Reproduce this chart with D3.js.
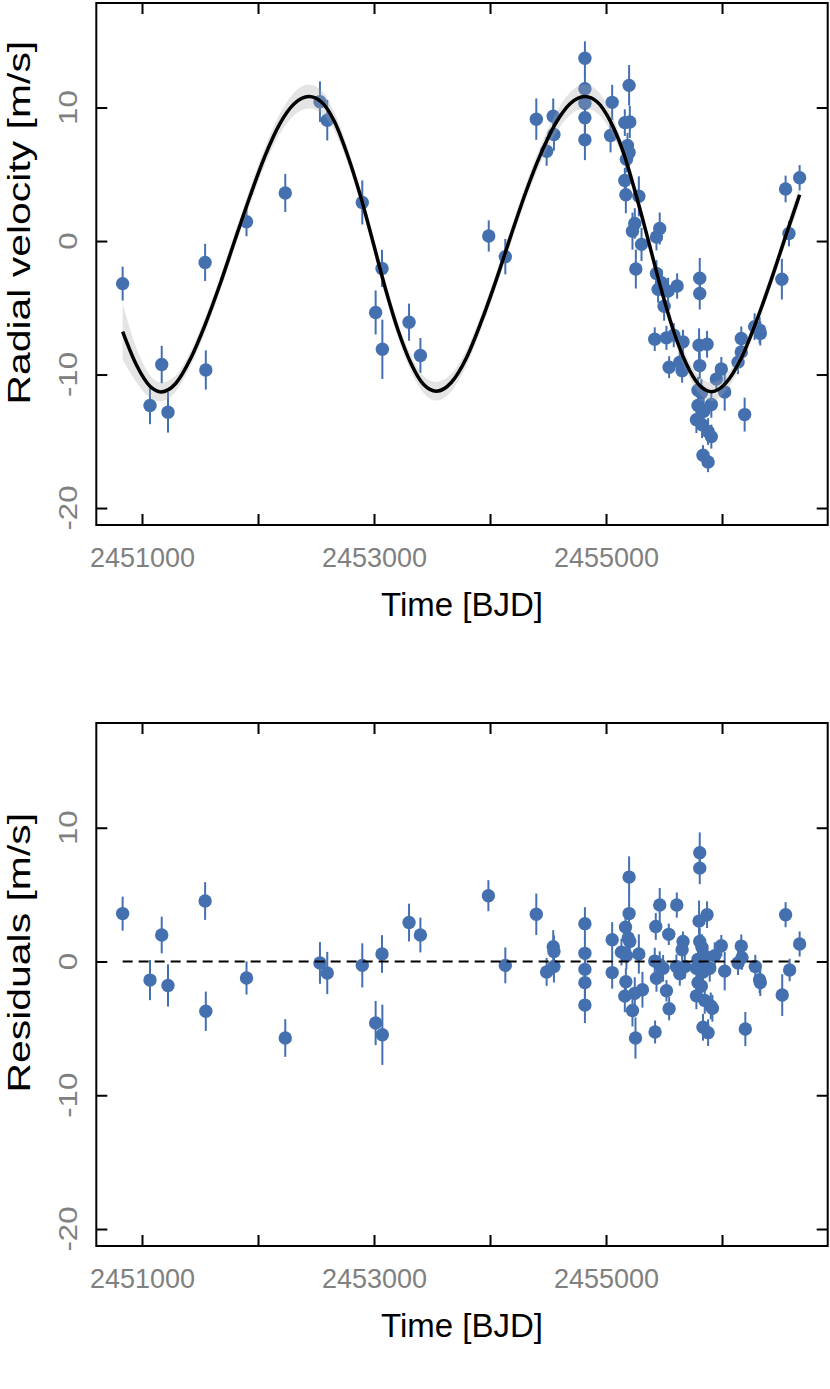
<!DOCTYPE html>
<html><head><meta charset="utf-8">
<script src="https://cdn.jsdelivr.net/npm/d3@7"></script>
<style>body{margin:0;background:#fff}svg{display:block}</style>
</head><body>
<script>
// ---------- DATA ----------
const xTicks = [2451000, 2452000, 2453000, 2454000, 2455000, 2456000];
const xTickLabels = ["2451000", "", "2453000", "", "2455000", ""];
const yTicks = [-20, -10, 0, 10];
const yTickLabels = ["-20", "-10", "0", "10"];

// observed radial velocities
const rvTime = [2450833,2451069,2451170,2451224,2451544,2451550,2451901,2452235,2452534,2452597,2452899,2453014,2453069,2453072,2453302,2453400,
 2453989,2454132,2454399,2454488,2454545,2454551,2454818,2454818,2454818,2454818,2454818,2455053,2455039,2455199,2455162,2455205,2455185,2455199,2455176,2455162,2455171,2455283,2455248,2455228,2455306,2455257,
 2455463,2455435,2455435,2455449,2455478,2455501,2455535,2455613,2455420,2455521,2455584,2455664,2455544,2455636,2455656,
 2455808,2455808,2455802,2455871,2455808,2455793,2455822,2455793,2455842,2455779,2455828,2455880,2455908,2455836,2455880,2455908,
 2455994,2455951,2456023,2456195,2456138,2456166,2456166,2456281,2456324,2456330,2456516,2456577,2456548,2456669];
const rvValue = [-3.19,-12.32,-9.25,-12.83,-1.60,-9.66,1.44,3.60,10.44,9.05,2.89,-5.35,-2.05,-8.11,-6.08,-8.57,
 0.38,-1.17,9.13,6.72,9.35,7.98,13.69,11.41,10.32,9.23,7.58,10.39,7.91,11.66,8.87,8.92,7.15,6.64,6.13,4.54,3.47,3.35,1.32,0.74,-0.25,-2.10,
 0.94,0.30,-2.43,-3.62,-3.12,-4.89,-3.75,-3.37,-7.35,-7.25,-7.05,-7.55,-9.45,-9.07,-9.71,
 -2.79,-3.93,-7.81,-7.73,-9.33,-11.18,-11.36,-12.32,-12.75,-13.38,-13.76,-14.27,-14.65,-16.05,-16.55,-12.24,
 -9.58,-10.34,-11.31,-13.0,-9.07,-7.3,-8.31,-6.41,-6.67,-6.92,-2.86,0.56,3.9,4.74];
const rvError = [1.27,1.4,1.4,1.52,1.39,1.47,1.08,1.43,1.52,1.52,1.65,1.65,1.39,2.22,1.39,1.3,
 1.17,1.33,1.55,1.08,1.33,1.2,1.27,1.2,1.2,1.2,1.52,1.31,1.27,1.52,1.0,1.2,0.95,1.0,1.0,0.95,1.39,1.5,1.14,1.39,1.24,1.46,
 1.2,1.0,1.0,1.0,1.0,1.08,1.0,0.95,0.89,0.9,0.9,0.9,0.82,0.9,0.9,
 1.52,1.2,1.27,1.0,1.0,1.0,1.0,1.0,1.0,1.0,1.0,1.0,0.9,0.76,0.76,1.0,
 0.9,0.9,1.4,1.27,0.9,0.9,0.9,1.0,1.0,0.9,1.52,0.95,1.0,0.95];

// fitted model curve and the half-width of its grey uncertainty band
const modelTime = [2450833,2450950,2451069,2451164,2451292,2451419,2451547,2451674,2451802,2451929,2452057,2452184,2452312,2452439,
 2452549,2452659,2452769,2452879,2452989,2453098,2453208,2453318,2453428,2453538,
 2453666,2453794,2453922,2454050,2454178,2454306,2454434,2454562,2454690,2454818,
 2454927,2455036,2455145,2455254,2455363,2455472,2455581,2455690,2455799,2455908,
 2456036,2456164,2456292,2456420,2456548,2456669];
const modelValue = [-6.79,-9.25,-10.88,-11.3,-10.65,-8.8,-6.2,-3.2,0.1,3.3,6.3,8.72,10.28,10.82,
 10.4,8.95,6.5,3.5,0.0,-3.55,-6.7,-9.15,-10.75,-11.25,
 -10.6,-8.8,-6.1,-3.0,0.35,3.6,6.45,8.75,10.28,10.82,
 10.4,9.0,6.75,3.6,0.1,-3.5,-6.7,-9.15,-10.74,-11.28,
 -10.6,-8.8,-6.1,-3.0,0.35,3.47];
const modelBand = [2.1,1.3,0.85,0.7,0.6,0.55,0.55,0.55,0.55,0.6,0.65,0.75,0.85,0.9,
 0.85,0.7,0.6,0.55,0.55,0.55,0.55,0.6,0.65,0.7,
 0.65,0.6,0.55,0.55,0.55,0.6,0.65,0.75,0.85,0.9,
 0.85,0.7,0.55,0.5,0.5,0.5,0.5,0.55,0.65,0.7,
 0.6,0.5,0.5,0.5,0.55,0.65];

// residuals
const resTime = [2450833,2451069,2451170,2451224,2451544,2451550,2451901,2452235,2452534,2452597,2452899,2453069,2453014,2453072,2453302,2453400,
 2453986,2454132,2454399,2454488,2454545,2454551,2454551,2454818,2454818,2454818,2454818,2454818,2455053,2455053,
 2455199,2455199,2455168,2455191,2455205,2455133,2455176,2455283,2455171,2455162,2455228,2455254,2455248,2455314,
 2455463,2455429,2455541,2455610,2455420,2455463,2455492,2455435,2455521,2455544,2455423,2455664,2455656,2455607,2455636,2455679,
 2455808,2455808,2455802,2455871,2455808,2455828,2455793,2455851,2455779,2455836,2455894,2455793,2455822,2455779,2455851,2455903,2455917,2455836,2455880,2455937,
 2455994,2456023,2456138,2456166,2456172,2456201,2456287,2456324,2456330,2456519,2456548,2456583,2456669];
const resValue = [3.58,-1.39,1.98,-1.79,4.52,-3.72,-1.23,-5.72,-0.11,-0.86,-0.29,0.56,-4.6,-5.48,2.91,1.98,
 4.92,-0.29,3.53,-0.78,1.10,0.75,-0.37,2.83,0.61,-0.59,-1.58,-3.26,1.63,-0.83,
 6.31,3.58,2.57,1.76,1.5,0.70,0.43,0.56,-1.52,-2.59,-3.66,-5.72,-2.38,-2.11,
 4.22,2.62,2.03,4.22,0.03,-0.24,-0.51,-1.26,-2.19,-3.53,-5.27,1.5,0.88,-0.37,-0.91,-0.37,
 8.13,6.98,3.02,3.5,1.5,1.04,0.16,0.43,-0.51,-0.78,-0.51,-1.58,-1.84,-2.57,-2.91,-3.32,-3.5,-4.92,-5.32,0.43,
 1.18,-0.72,-0.11,1.15,0.29,-5.05,-0.37,-1.36,-1.58,-2.51,3.5,-0.64,1.31];
const resError = [1.27,1.5,1.37,1.58,1.41,1.47,1.24,1.41,1.56,1.58,1.65,1.41,1.65,2.25,1.41,1.3,
 1.16,1.34,1.55,1.04,1.24,1.2,1.2,1.23,1.2,1.2,1.2,1.34,1.31,1.2,
 1.55,1.2,1.0,1.0,1.0,1.0,1.0,1.47,1.0,1.2,1.2,1.54,1.2,1.34,
 1.27,1.0,0.8,0.94,1.0,1.0,1.0,1.0,0.8,0.87,0.86,0.74,0.9,0.9,0.9,0.9,
 1.52,1.2,1.54,1.0,1.0,1.0,1.0,1.0,1.0,1.0,1.0,1.0,1.0,1.0,1.0,1.0,1.0,1.0,1.0,1.0,
 0.8,1.44,0.9,0.87,0.9,1.28,0.87,1.0,1.0,1.56,0.94,0.84,0.94];

// ---------- DRAWING ----------
const W = 830, H = 1389;
const blue = "#4470b0";
const svg = d3.select("body").append("svg").attr("width", W).attr("height", H);
const font = "'Liberation Sans', Arial, Helvetica, sans-serif";

const x = d3.scaleLinear().domain([2450606, 2456911]).range([96.3, 827.7]);
const yDomain = [-21.27, 17.83];
const stretch = 1.32; // rotated text in the reference is elongated along its reading direction

function panel(top, bottom, yTitle, drawContent) {
  const y = d3.scaleLinear().domain(yDomain).range([bottom, top]);
  const g = svg.append("g");
  drawContent(g, y);
  const L = x.range()[0], R = x.range()[1];
  const tick = 11;
  const axB = d3.axisBottom(x).tickValues(xTicks).tickSizeInner(-tick).tickSizeOuter(0).tickFormat((d,i)=>xTickLabels[i]).tickPadding(23);
  const axT = d3.axisTop(x).tickValues(xTicks).tickSizeInner(-tick).tickSizeOuter(0).tickFormat("");
  const axL = d3.axisLeft(y).tickValues(yTicks).tickSizeInner(-tick).tickSizeOuter(0).tickFormat("");
  const axR = d3.axisRight(y).tickValues(yTicks).tickSizeInner(-tick).tickSizeOuter(0).tickFormat("");
  const gb = g.append("g").attr("transform", `translate(0,${bottom})`).call(axB);
  g.append("g").attr("transform", `translate(0,${top})`).call(axT);
  g.append("g").attr("transform", `translate(${L},0)`).call(axL);
  g.append("g").attr("transform", `translate(${R},0)`).call(axR);
  g.selectAll(".domain").remove();
  g.selectAll(".tick line").attr("stroke", "#000").attr("stroke-width", 2);
  gb.selectAll(".tick text").attr("fill", "#808080").attr("font-size", 27).attr("font-family", font)
    .attr("dy", "0.71em");
  // y tick labels (rotated)
  g.selectAll(".ylab").data(yTicks).join("text")
    .attr("transform", d => `translate(77,${y(d)}) rotate(-90) scale(${1.2},1)`)
    .attr("text-anchor", "middle").attr("fill", "#808080").attr("font-size", 26).attr("font-family", font)
    .text((d,i) => yTickLabels[i]);
  // box
  g.append("rect").attr("x", L).attr("y", top).attr("width", R - L).attr("height", bottom - top)
    .attr("fill", "none").attr("stroke", "#000").attr("stroke-width", 2);
  // titles
  g.append("text").attr("x", (L + R) / 2).attr("y", bottom + 91).attr("text-anchor", "middle")
    .attr("font-size", 33).attr("font-family", font).attr("fill", "#000").text("Time [BJD]");
  const yt = g.append("text").attr("text-anchor", "start")
    .attr("font-size", 31).attr("font-family", font).attr("fill", "#000").text(yTitle);
  const len = yt.node().getComputedTextLength();
  yt.attr("transform", `translate(29.5,${(top + bottom) / 2 + len * 0.51}) rotate(-90) scale(${stretch},1)`);
}

function points(g, y, ts, vs, es) {
  const idx = d3.range(ts.length);
  g.append("g").selectAll("line").data(idx).join("line")
    .attr("x1", i => x(ts[i])).attr("x2", i => x(ts[i]))
    .attr("y1", i => y(vs[i] - es[i])).attr("y2", i => y(vs[i] + es[i]))
    .attr("stroke", blue).attr("stroke-width", 2);
  g.append("g").selectAll("circle").data(idx).join("circle")
    .attr("cx", i => x(ts[i])).attr("cy", i => y(vs[i])).attr("r", 6.7).attr("fill", blue);
}

panel(3, 525, "Radial velocity [m/s]", (g, y) => {
  points(g, y, rvTime, rvValue, rvError);
  const idx = d3.range(modelTime.length);
  const area = d3.area().curve(d3.curveMonotoneX)
    .x(i => x(modelTime[i])).y0(i => y(modelValue[i] - modelBand[i])).y1(i => y(modelValue[i] + modelBand[i]));
  g.append("path").attr("d", area(idx)).attr("fill", "rgb(165,165,165)").attr("fill-opacity", 0.3);
  const line = d3.line().curve(d3.curveMonotoneX).x(i => x(modelTime[i])).y(i => y(modelValue[i]));
  g.append("path").attr("d", line(idx)).attr("fill", "none").attr("stroke", "#000").attr("stroke-width", 3.5);
});

panel(723, 1246, "Residuals [m/s]", (g, y) => {
  points(g, y, resTime, resValue, resError);
  g.append("line").attr("x1", x(d3.min(resTime))).attr("x2", x(d3.max(resTime)))
    .attr("y1", y(0)).attr("y2", y(0)).attr("stroke", "#000").attr("stroke-width", 2).attr("stroke-dasharray", "10,6");
});
</script>
</body></html>
